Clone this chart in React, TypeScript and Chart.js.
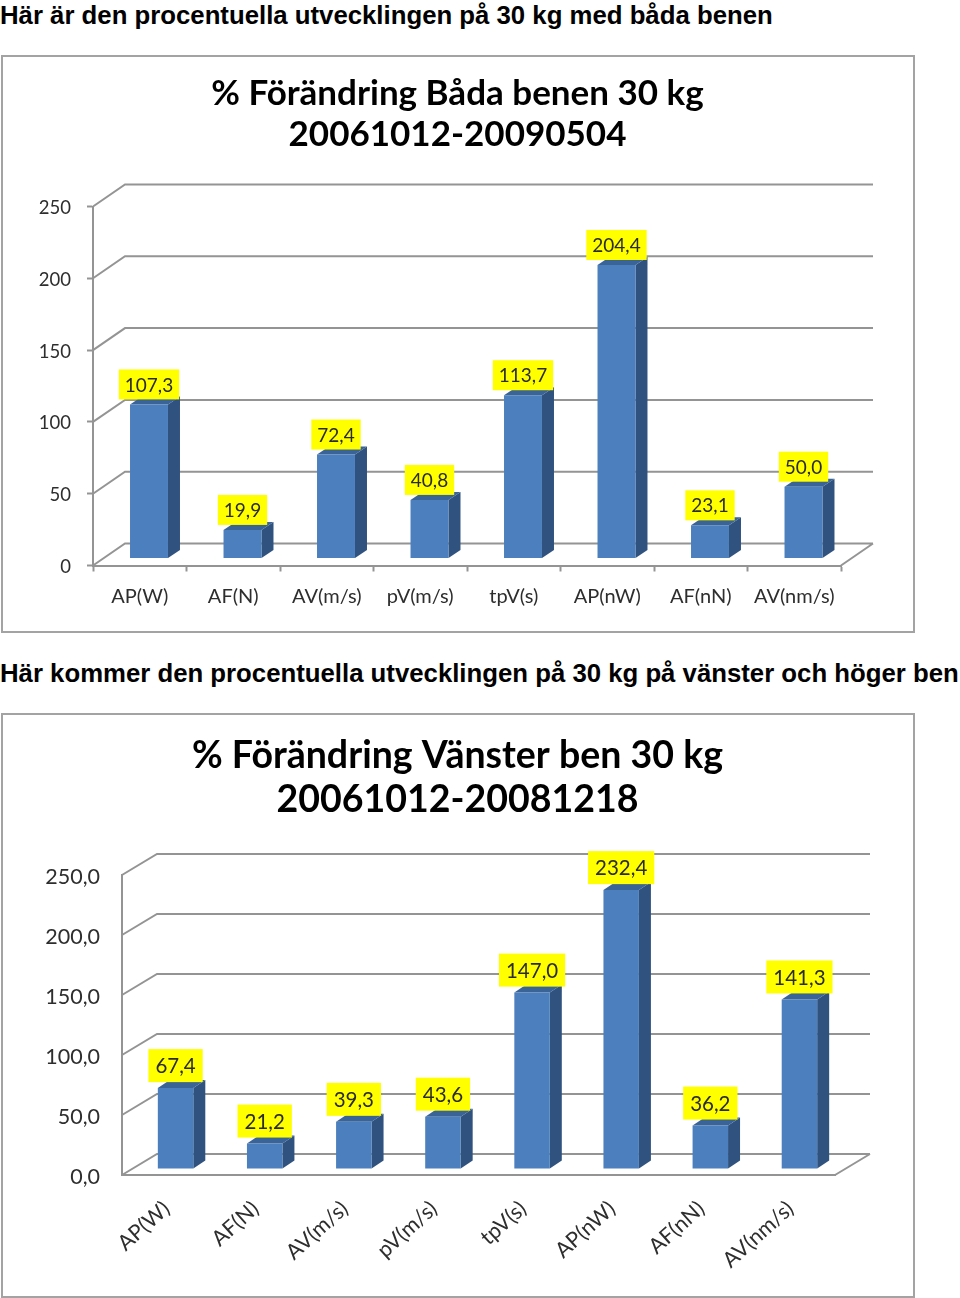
import React, { useEffect, useRef } from "react";
import { Chart, registerables } from "chart.js";

Chart.register(...registerables);

const heading1 = "Här är den procentuella utvecklingen på 30 kg med båda benen";
const heading2 = "Här kommer den procentuella utvecklingen på 30 kg på vänster och höger ben";

const categories = ["AP(W)", "AF(N)", "AV(m/s)", "pV(m/s)", "tpV(s)", "AP(nW)", "AF(nN)", "AV(nm/s)"];
const bothLegsValues = [107.3, 19.9, 72.4, 40.8, 113.7, 204.4, 23.1, 50.0];
const leftLegValues = [67.4, 21.2, 39.3, 43.6, 147.0, 232.4, 36.2, 141.3];
const bothLegsTitle = ["% Förändring Båda benen 30 kg", "20061012-20090504"];
const leftLegTitle = ["% Förändring Vänster ben 30 kg", "20061012-20081218"];

const FRONT = "#4c7fbd";
const SIDE = "#30527f";
const TOP = "#3a6396";
const LINE = "#949494";
const TEXT = "#2e2e2e";

type Spec = {
  top: number; height: number; frameH: number;
  values: number[]; title: string[];
  left: number; right: number; plotTop: number; plotBottom: number;
  wall: [number, number]; barShift: [number, number]; depth: [number, number];
  barPct: number; titleSize: number; titleLH: number; titlePadTop: number;
  tickSize: number; catSize: number; valSize: number; boxH: number; boxGap: number; boxPad: number;
  rotation: number; tickLen: number; yPad: number; xPad: number; yDecimals: number; yLabelOffset: number;
};

const spec1: Spec = {
  top: 55, height: 578, frameH: 576, values: bothLegsValues, title: bothLegsTitle,
  left: 93, right: 841, plotTop: 206.5, plotBottom: 565.5,
  wall: [32, -22], barShift: [9.25, -7], depth: [12, -8], barPct: 0.406,
  titleSize: 35, titleLH: 41, titlePadTop: 18,
  tickSize: 18.5, catSize: 20, valSize: 19, boxH: 30, boxGap: 5, boxPad: 6,
  rotation: 0, tickLen: 6, yPad: 16, xPad: 13, yDecimals: 0, yLabelOffset: 1.5,
};
const spec2: Spec = {
  top: 713, height: 585, frameH: 583, values: leftLegValues, title: leftLegTitle,
  left: 122, right: 835, plotTop: 875, plotBottom: 1175,
  wall: [35, -21], barShift: [9, -6], depth: [12, -8], barPct: 0.398,
  titleSize: 37.5, titleLH: 44, titlePadTop: 21,
  tickSize: 21.5, catSize: 21.5, valSize: 20.5, boxH: 33, boxGap: 6, boxPad: 7,
  rotation: 42, tickLen: 0, yPad: 22, xPad: 21, yDecimals: 1, yLabelOffset: 2,
};

const comma = (v: number, d: number) => v.toFixed(d).replace(".", ",");

function makePlugin(s: Spec) {
  return {
    id: "pseudo3d",
    afterLayout(chart: any) {
      // The title is centred on the whole frame, not on the plot's reduced width.
      if (chart.titleBlock) chart.titleBlock.right = chart.width;
    },
    beforeDatasetsDraw(chart: any) {
      const { ctx } = chart;
      const x = chart.scales.x, y = chart.scales.y;
      ctx.save();
      ctx.strokeStyle = LINE;
      ctx.lineWidth = 2;
      ctx.beginPath();
      y.ticks.forEach((_: any, i: number) => {
        const py = y.getPixelForTick(i);
        ctx.moveTo(x.left, py);
        ctx.lineTo(x.left + s.wall[0], py + s.wall[1]);
        ctx.lineTo(x.right + s.wall[0], py + s.wall[1]);
      });
      const y0 = y.getPixelForValue(0);
      ctx.moveTo(x.right, y0);
      ctx.lineTo(x.right + s.wall[0], y0 + s.wall[1]);
      ctx.stroke();
      ctx.translate(s.barShift[0], s.barShift[1]);
      chart.getDatasetMeta(0).data.forEach((b: any) => {
        const l = b.x - b.width / 2, r = b.x + b.width / 2;
        const [dx, dy] = s.depth;
        ctx.fillStyle = SIDE;
        ctx.beginPath();
        ctx.moveTo(r, b.y); ctx.lineTo(r + dx, b.y + dy);
        ctx.lineTo(r + dx, b.base + dy); ctx.lineTo(r, b.base);
        ctx.closePath(); ctx.fill();
        ctx.fillStyle = TOP;
        ctx.beginPath();
        ctx.moveTo(l, b.y); ctx.lineTo(l + dx, b.y + dy);
        ctx.lineTo(r + dx, b.y + dy); ctx.lineTo(r, b.y);
        ctx.closePath(); ctx.fill();
      });
      ctx.restore();
      ctx.save();
      ctx.translate(s.barShift[0], s.barShift[1]);
    },
    afterDatasetsDraw(chart: any) {
      const { ctx } = chart;
      ctx.restore();
      ctx.save();
      ctx.font = `${s.valSize}px Lato`;
      ctx.textAlign = "center";
      ctx.textBaseline = "middle";
      chart.getDatasetMeta(0).data.forEach((b: any, i: number) => {
        const label = comma(s.values[i], 1);
        const w = ctx.measureText(label).width + s.boxPad * 2;
        const cx = b.x + s.barShift[0];
        const bottom = b.y + s.barShift[1] - s.boxGap;
        ctx.fillStyle = "#ffff00";
        ctx.fillRect(cx - w / 2, bottom - s.boxH, w, s.boxH);
        ctx.fillStyle = "#2b2b2b";
        ctx.fillText(label, cx, bottom - s.boxH / 2 + 1);
      });
      ctx.restore();
    },
  };
}

function Bar3D({ s }: { s: Spec }) {
  const ref = useRef<HTMLCanvasElement>(null);
  useEffect(() => {
    const bottomH = s.top + s.height - s.plotBottom;
    const titleH = s.titleLH * s.title.length;
    const chart = new Chart(ref.current as HTMLCanvasElement, {
      type: "bar",
      data: {
        labels: categories,
        datasets: [{ data: s.values, backgroundColor: FRONT, barPercentage: s.barPct, categoryPercentage: 1 }],
      },
      plugins: [makePlugin(s)],
      options: {
        responsive: false,
        animation: false,
        layout: { padding: { top: 0, left: 0, bottom: 0, right: 915 - s.right } },
        plugins: {
          legend: { display: false },
          tooltip: { enabled: false },
          title: {
            display: true,
            text: s.title,
            color: "#000000",
            font: { family: "Lato", weight: "bold", size: s.titleSize, lineHeight: s.titleLH / s.titleSize },
            padding: { top: s.titlePadTop, bottom: s.plotTop - s.top - titleH - s.titlePadTop },
          },
        },
        scales: {
          x: {
            offset: true,
            border: { display: true, color: LINE, width: 2 },
            grid: {
              offset: true, drawOnChartArea: false,
              drawTicks: s.tickLen > 0, tickLength: s.tickLen, tickColor: LINE, tickWidth: 2,
            },
            ticks: {
              color: TEXT, autoSkip: false, padding: s.xPad,
              minRotation: s.rotation, maxRotation: s.rotation,
              font: { family: "Lato", size: s.catSize },
            },
            afterFit: (a: any) => { a.height = bottomH; },
          },
          y: {
            min: 0, max: 250,
            border: { display: true, color: LINE, width: 2 },
            grid: {
              drawOnChartArea: false,
              drawTicks: s.tickLen > 0, tickLength: s.tickLen, tickColor: LINE, tickWidth: 2,
            },
            ticks: {
              color: TEXT, stepSize: 50, padding: s.yPad, labelOffset: s.yLabelOffset,
              font: { family: "Lato", size: s.tickSize },
              callback: (v: any) => comma(Number(v), s.yDecimals),
            },
            afterFit: (a: any) => { a.width = s.left; },
          },
        },
      },
    } as any);
    return () => chart.destroy();
  }, [s]);
  return (
    <>
      <div style={{ position: "absolute", left: 1, top: s.top, width: 910, height: s.frameH - 2, border: "2px solid #a3a3a3", boxSizing: "content-box" }} />
      <canvas ref={ref} width={915} height={s.height} style={{ position: "absolute", left: 0, top: s.top, display: "block" }} />
    </>
  );
}

const headingStyle: React.CSSProperties = {
  position: "absolute", left: 0, margin: 0, whiteSpace: "nowrap",
  font: "bold 25.75px 'Liberation Sans', Arial, sans-serif", color: "#000", lineHeight: "30px",
};

export default function App() {
  return (
    <div>
      <div style={{ ...headingStyle, top: 0 }}>{heading1}</div>
      <Bar3D s={spec1} />
      <div style={{ ...headingStyle, top: 658 }}>{heading2}</div>
      <Bar3D s={spec2} />
    </div>
  );
}
